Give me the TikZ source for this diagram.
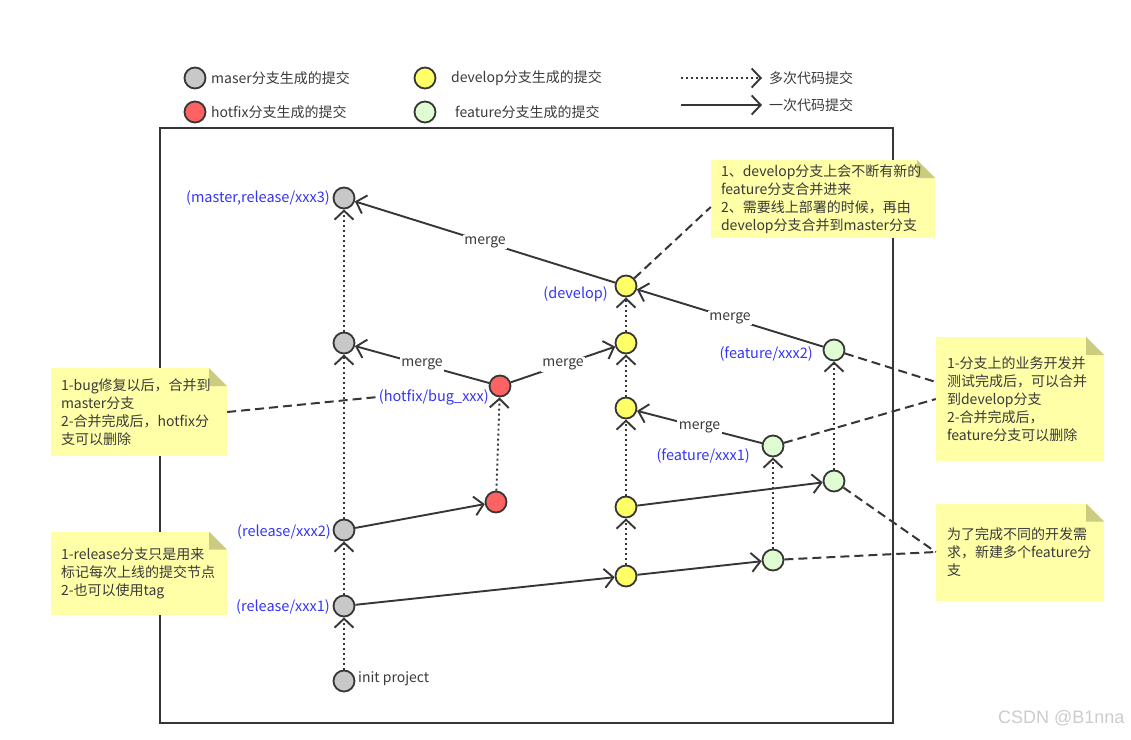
\documentclass[tikz,border=0pt]{standalone}
\usepackage{fontspec}
\setmainfont{Noto Sans CJK SC}
\newfontfamily\wmfont{Liberation Sans}
\usepackage{xcolor}
\usepackage{tikz}
\usetikzlibrary{shapes, arrows.meta, positioning}

\definecolor{linec}{HTML}{363636}
\definecolor{textc}{HTML}{3A3A3A}
\definecolor{masc}{HTML}{C8C8C8}
\definecolor{hotc}{HTML}{FF6262}
\definecolor{devc}{HTML}{FFFF66}
\definecolor{feac}{HTML}{E0FCD2}
\definecolor{notec}{HTML}{FFFFA8}
\definecolor{foldc}{HTML}{CCCC80}
\definecolor{tagc}{HTML}{3434F8}
\newcommand{\diagfont}{\fontsize{14}{18}\selectfont}
\newcommand{\tagfont}{\fontsize{14.5}{18}\selectfont}

\begin{document}
\begin{tikzpicture}[x=1pt, y=-1pt,
    commit/.style={circle, draw=linec, line width=1.8pt, minimum size=21pt, inner sep=0pt},
    mas/.style={commit, fill=masc},
    hot/.style={commit, fill=hotc},
    dev/.style={commit, fill=devc},
    fea/.style={commit, fill=feac},
    once/.style={draw=linec, line width=1.9pt, -{Straight Barb[length=9pt, width=19pt]}},
    many/.style={once, dash pattern=on 2pt off 3pt},
    link/.style={draw=linec, line width=2pt, dash pattern=on 9pt off 5pt},
    txt/.style={text=textc, font=\diagfont, inner sep=2pt},
    tag/.style={text=tagc, font=\tagfont, inner sep=1pt},
    mrg/.style={fill=white, text=textc, font=\diagfont, inner sep=1.5pt},
    note/.style={rectangle, fill=notec, text=textc, align=left, font=\diagfont, inner sep=0pt,
        path picture={
            \fill[white] ([xshift=-18pt]path picture bounding box.north east) -- (path picture bounding box.north east)
                -- ([yshift=-18pt]path picture bounding box.north east) -- cycle;
            \fill[foldc] ([xshift=-18pt]path picture bounding box.north east) -- ([xshift=-18pt, yshift=-18pt]path picture bounding box.north east)
                -- ([yshift=-18pt]path picture bounding box.north east) -- cycle;
        }}]
    \useasboundingbox (0,0) rectangle (1131,739);

    % legend
    \node[mas] (lm) at (195,78) {};
    \node[txt, anchor=west] (lmt) at (209,78) {maser分支生成的提交};
    \node[hot] (lh) at (195,112) {};
    \node[txt, anchor=west] (lht) at (209,112) {hotfix分支生成的提交};
    \node[dev] (ld) at (425,78) {};
    \node[txt, anchor=west] (ldt) at (449,78) {develop分支生成的提交};
    \node[fea] (lf) at (425,112) {};
    \node[txt, anchor=west] (lft) at (453,112) {feature分支生成的提交};
    \coordinate (la1) at (681,78);
    \coordinate (la2) at (762,78);
    \coordinate (lb1) at (681,105);
    \coordinate (lb2) at (762,105);
    \draw[many] (la1) -- (la2);
    \draw[once] (lb1) -- (lb2);
    \node[txt, anchor=west] (lat) at (767,78) {多次代码提交};
    \node[txt, anchor=west] (lbt) at (767,105) {一次代码提交};

    \draw[linec, line width=1.8pt] (160,128) rectangle (893,723);

    % commits
    \node[mas] (m3) at (344,198) {};
    \node[mas] (m2) at (344,343) {};
    \node[mas] (r2) at (344,530) {};
    \node[mas] (r1) at (344,606) {};
    \node[mas] (i0) at (344,681) {};
    \node[hot] (h2) at (500,386) {};
    \node[hot] (h1) at (496,502) {};
    \node[dev] (d5) at (626,286) {};
    \node[dev] (d4) at (626,343) {};
    \node[dev] (d3) at (626,408) {};
    \node[dev] (d2) at (626,507) {};
    \node[dev] (d1) at (626,576) {};
    \node[fea] (fx2) at (834,350) {};
    \node[fea] (fy2) at (834,481) {};
    \node[fea] (fx1) at (773,446) {};
    \node[fea] (fy1) at (773,560) {};

    \node[tag, anchor=east] (tm3) at (331,198) {(master,release/xxx3)};
    \node[tag, anchor=east] (tr2) at (332,532) {(release/xxx2)};
    \node[tag, anchor=east] (tr1) at (331,607) {(release/xxx1)};
    \node[txt, anchor=west] (ti0) at (356,679) {init project};
    \node[tag, anchor=east] (th) at (490,397) {(hotfix/bug\_xxx)};
    \node[tag, anchor=east] (td) at (609,294) {(develop)};
    \node[tag, anchor=east] (tf2) at (814,354) {(feature/xxx2)};
    \node[tag, anchor=east] (tf1) at (751,456) {(feature/xxx1)};

    \draw[many] (i0) -- (r1);
    \draw[many] (r1) -- (r2);
    \draw[many] (r2) -- (m2);
    \draw[many] (m2) -- (m3);
    \draw[many] (h1) -- (h2);
    \draw[many] (d1) -- (d2);
    \draw[many] (d2) -- (d3);
    \draw[many] (d3) -- (d4);
    \draw[many] (d4) -- (d5);
    \draw[many] (fy1) -- (fx1);
    \draw[many] (fy2) -- (fx2);

    \draw[once] (r2) -- (h1);
    \draw[once] (r1) -- (d1);
    \draw[once] (d1) -- (fy1);
    \draw[once] (d2) -- (fy2);
    \draw[once] (h2) -- node[mrg] {merge} (m2);
    \draw[once] (h2) -- node[mrg] {merge} (d4);
    \draw[once] (fx1) -- node[mrg] {merge} (d3);
    \draw[once] (fx2) -- node[mrg] {merge} (d5);
    \draw[once] (d5) -- node[mrg] {merge} (m3);

    % notes
    \node[note, minimum width=224pt, minimum height=78pt, text width=204pt] (na) at (823,199)
        {1、develop分支上会不断有新的\\feature分支合并进来\\2、需要线上部署的时候，再由\\develop分支合并到master分支};
    \node[note, minimum width=176pt, minimum height=88pt, text width=156pt] (nb) at (139,412)
        {1-bug修复以后，合并到\\master分支\\2-合并完成后，hotfix分\\支可以删除};
    \node[note, minimum width=176pt, minimum height=83pt, text width=156pt] (nc) at (139,573)
        {1-release分支只是用来\\标记每次上线的提交节点\\2-也可以使用tag};
    \node[note, minimum width=168pt, minimum height=124pt, text width=146pt] (nd) at (1020,399)
        {1-分支上的业务开发并\\测试完成后，可以合并\\到develop分支\\2-合并完成后，\\feature分支可以删除};
    \node[note, minimum width=168pt, minimum height=97pt, text width=146pt] (ne) at (1020,552)
        {为了完成不同的开发需\\求，新建多个feature分\\支};

    \draw[link] (d5) -- ([yshift=-8pt]na.west);
    \draw[link] (nb.east) -- (th.west);
    \draw[link] (fx2) -- ([yshift=17pt]nd.west);
    \draw[link] (fx1) -- (nd.west);
    \draw[link] (fy2) -- (ne.west);
    \draw[link] (fy1) -- (ne.west);

    \node[text=gray!40, font=\wmfont\fontsize{18}{20}\selectfont, anchor=east] (wm) at (1128,718) {CSDN @B1nna};
\end{tikzpicture}
\end{document}
